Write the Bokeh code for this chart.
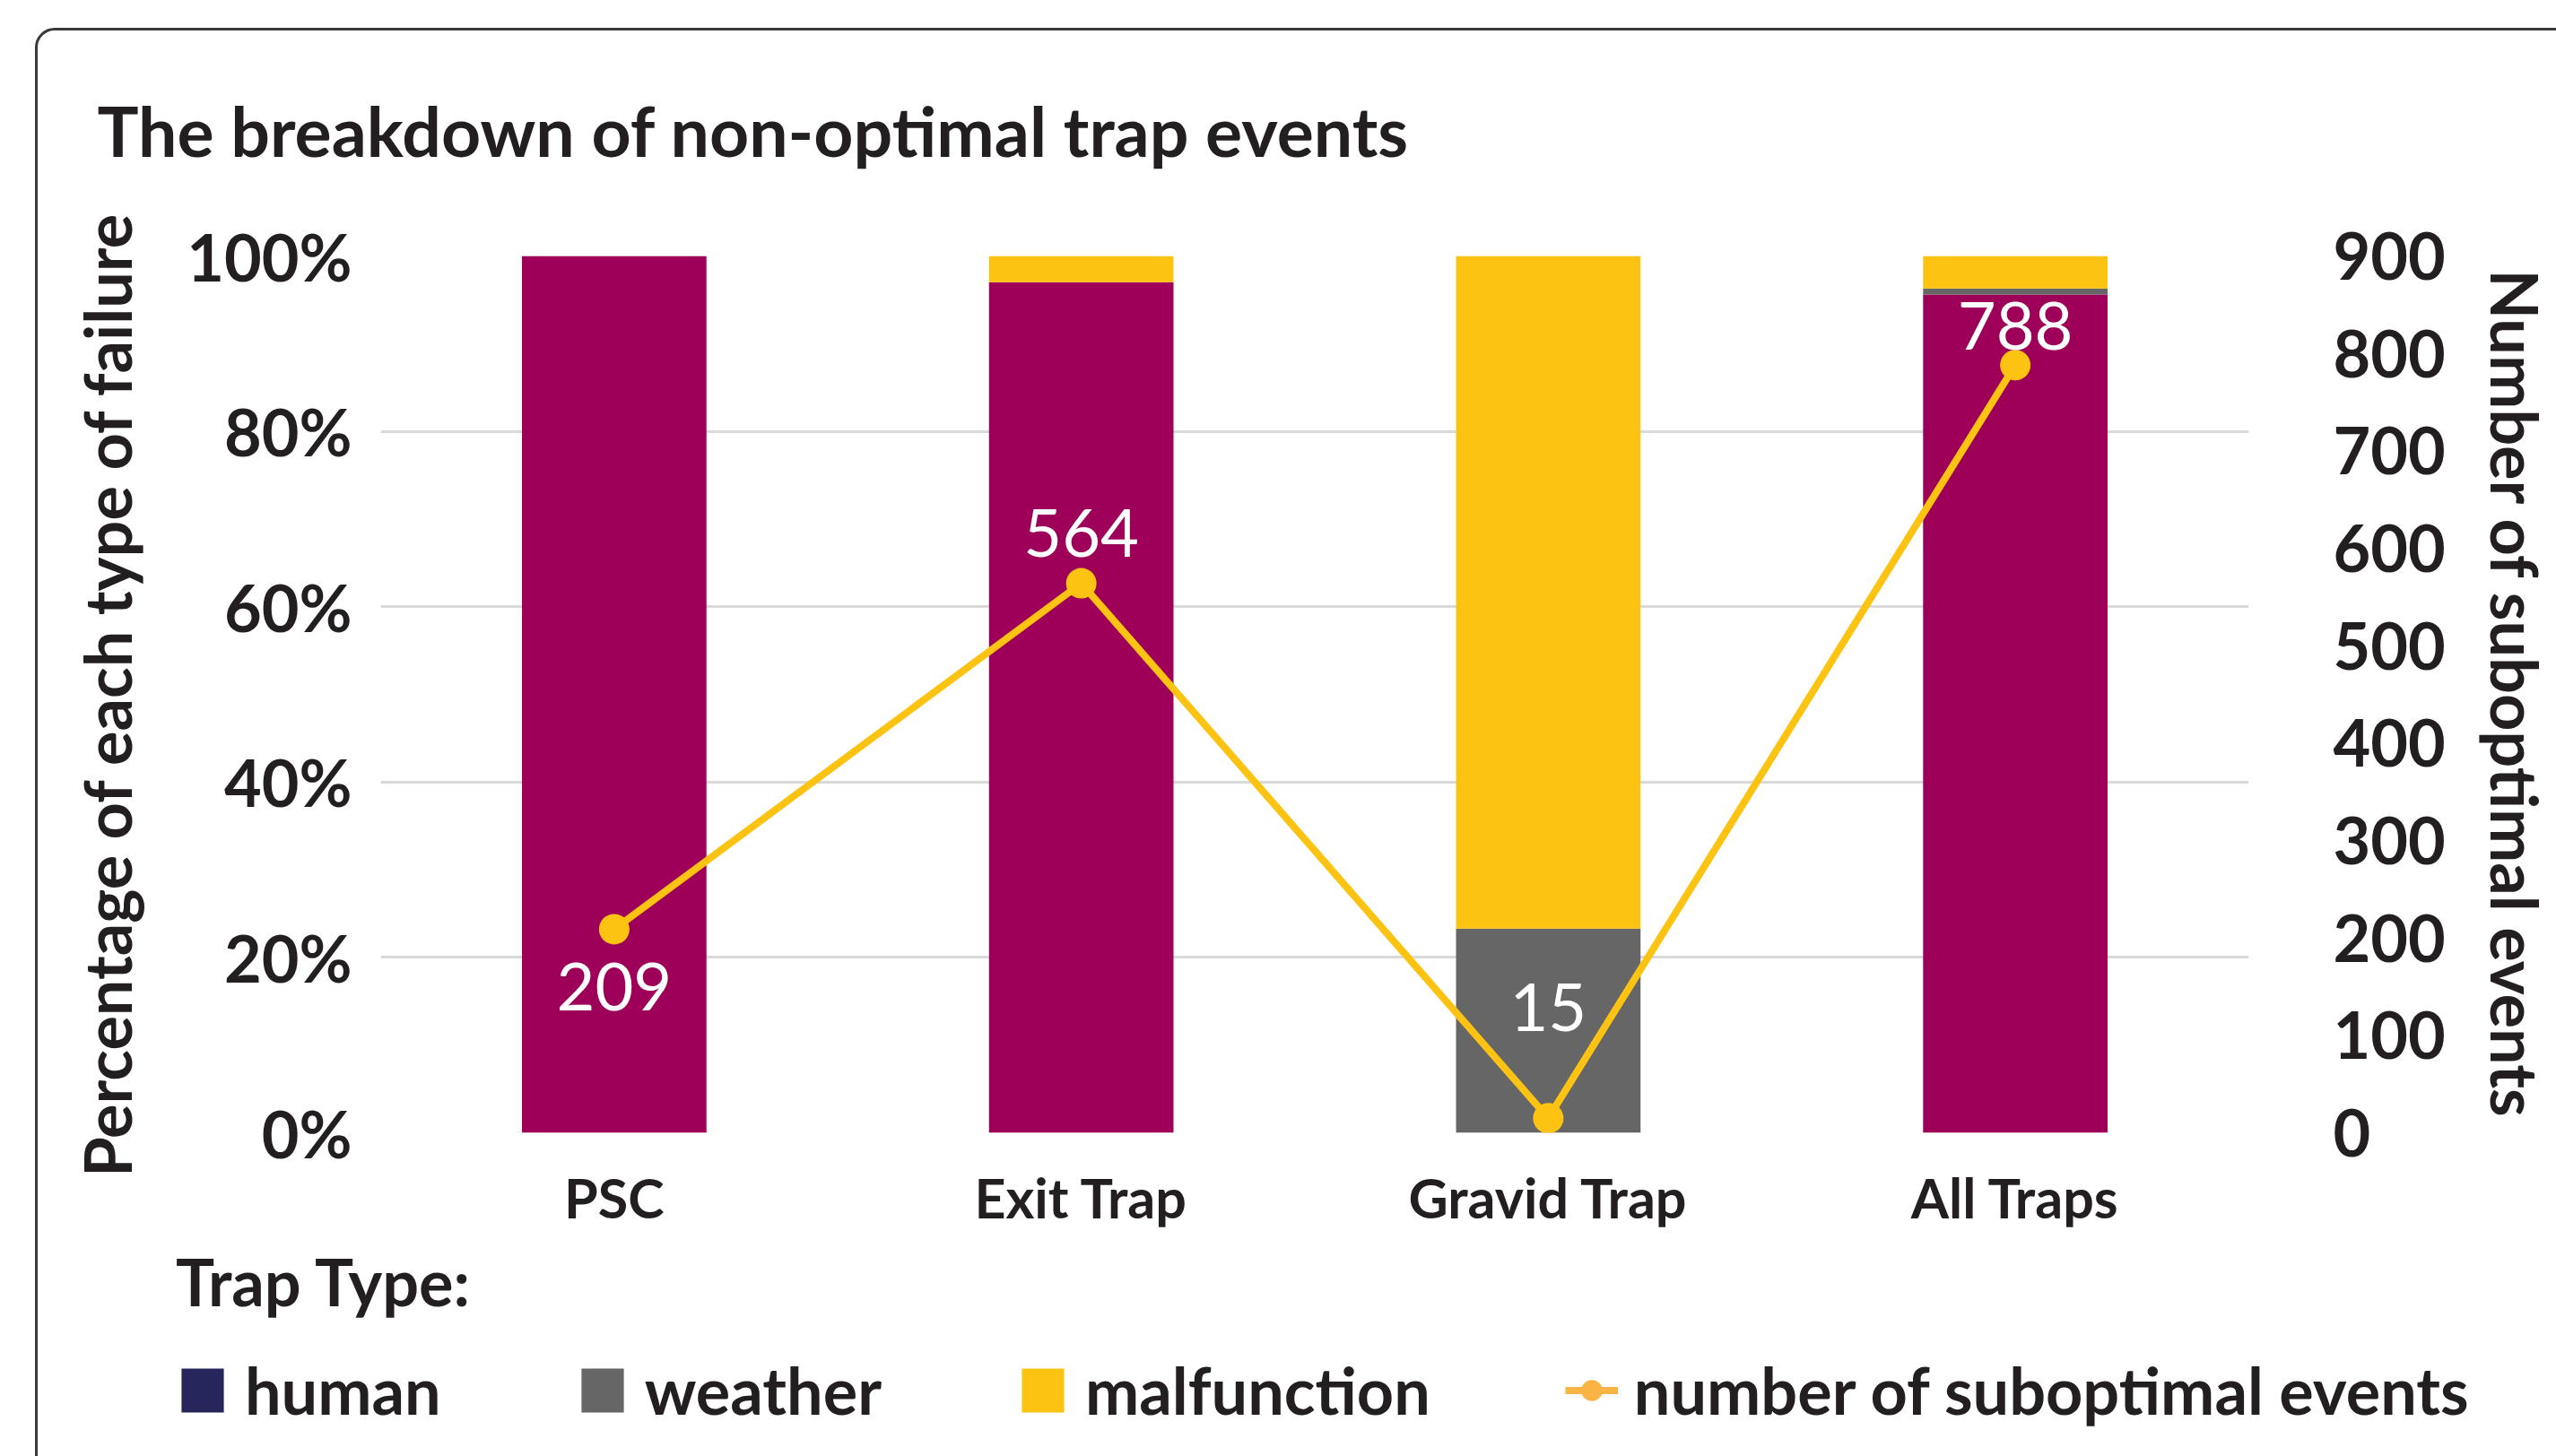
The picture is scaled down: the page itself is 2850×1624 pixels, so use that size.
from bokeh.plotting import figure
from bokeh.layouts import column
from bokeh.models import (ColumnDataSource, FactorRange, Range1d, LinearAxis, FixedTicker,
                          PrintfTickFormatter, Legend, LegendItem, LabelSet, InlineStyleSheet)
from bokeh.core.properties import value
from bokeh.embed import file_html
from bokeh.resources import INLINE

# ---- data ----
trap_types = ["PSC", "Exit Trap", "Gravid Trap", "All Traps"]
human = [100.0, 97.0, 0.0, 95.6]
weather = [0.0, 0.0, 23.3, 0.7]
malfunction = [0.0, 3.0, 76.7, 3.7]
suboptimal_events = [209, 564, 15, 788]
pct_ticks = [0, 20, 40, 60, 80, 100]
count_ticks = [0, 100, 200, 300, 400, 500, 600, 700, 800, 900]

# ---- styles ----
FONT = "Lato"
TXT = "#231F20"
CRIMSON = "#9E0059"
GRAY = "#666666"
YELLOW = "#FDC312"
NAVY = "#27265C"
ORANGE = "#F9B443"
label_dy = [-64, 56, 124, 44]   # pixel offsets of value labels (style)

W = 2850
H_MAIN, H_LEG = 1380, 244

p = figure(x_range=FactorRange(factors=trap_types), y_range=Range1d(0, 100),
           width=W, height=H_MAIN, output_backend="svg", toolbar_location=None,
           min_border_left=424, min_border_right=341, min_border_top=285,
           min_border_bottom=H_MAIN - 1263)
p.extra_y_ranges = {"count": Range1d(0, 900)}
p.outline_line_color = None
p.background_fill_color = "white"
p.border_fill_color = "white"

src = ColumnDataSource(dict(trap=trap_types, human=human, weather=weather, malfunction=malfunction,
                            count=suboptimal_events, label=[str(v) for v in suboptimal_events],
                            dy=label_dy))

p.vbar_stack(["human", "weather", "malfunction"], x="trap", width=0.395, source=src,
             fill_color=[CRIMSON, GRAY, YELLOW], line_color=None)

p.line(x="trap", y="count", source=src, y_range_name="count", line_color=YELLOW, line_width=8)
p.scatter(x="trap", y="count", source=src, y_range_name="count", size=34,
          fill_color=YELLOW, line_color=None)

labels = LabelSet(x="trap", y="count", text="label", y_range_name="count", source=src,
                  y_offset="dy", text_align="center", text_baseline="middle",
                  text_color="white", text_font=value(FONT), text_font_size="74px")
p.add_layout(labels)

# ---- axes ----
def style_axis(ax, size="72px"):
    ax.major_tick_line_color = None
    ax.minor_tick_line_color = None
    ax.axis_line_color = None
    ax.major_label_text_font = FONT
    ax.major_label_text_font_size = size
    ax.major_label_text_font_style = "bold"
    ax.major_label_text_color = TXT
    ax.axis_label_text_font = FONT
    ax.axis_label_text_font_size = "72px"
    ax.axis_label_text_font_style = "bold"
    ax.axis_label_text_color = TXT

ly = p.yaxis[0]
ly.ticker = FixedTicker(ticks=pct_ticks)
ly.formatter = PrintfTickFormatter(format="%d%%")
ly.axis_label = "Percentage of each type of failure"
style_axis(ly)
ly.major_label_standoff = 26
ly.axis_label_standoff = 43

ry = LinearAxis(y_range_name="count", ticker=FixedTicker(ticks=count_ticks),
                axis_label="Number of suboptimal events")
style_axis(ry)
ry.major_label_standoff = 88
ry.axis_label_standoff = 32
p.add_layout(ry, "right")

xa = p.xaxis[0]
style_axis(xa, "61px")
xa.major_label_standoff = 29

p.xgrid.grid_line_color = None
p.ygrid.ticker = FixedTicker(ticks=pct_ticks)
p.ygrid.grid_line_color = "#D9D9D9"
p.ygrid.grid_line_width = 3

# ---- title ----
p.title.text = "The breakdown of non-optimal trap events"
p.title.text_font = FONT
p.title.text_font_size = "77px"
p.title.text_font_style = "bold"
p.title.text_color = TXT
p.title.align = "left"
p.title.offset = 108 - 424
p.title.standoff = 190

# ---- legend (separate strip below the chart; proxies drawn outside its y-range) ----
pl = figure(width=W, height=H_LEG, output_backend="svg", toolbar_location=None,
            x_range=FactorRange(factors=trap_types), y_range=Range1d(1000, 1001),
            x_axis_location=None, y_axis_location=None, min_border=0)
pl.outline_line_color = None
pl.grid.visible = False
for fig in (p, pl):
    if hasattr(fig, "frame_align"):
        fig.frame_align = False
r_h = pl.vbar(x="trap", top="human", source=src, width=0.4, fill_color=NAVY, line_color=None)
r_w = pl.vbar(x="trap", top="weather", source=src, width=0.4, fill_color=GRAY, line_color=None)
r_m = pl.vbar(x="trap", top="malfunction", source=src, width=0.4, fill_color=YELLOW, line_color=None)
r_l = pl.line(x="trap", y="count", source=src, line_color=ORANGE, line_width=8)
r_s = pl.scatter(x="trap", y="count", source=src, size=30, fill_color=ORANGE, line_color=None)
legend = Legend(items=[LegendItem(label="human", renderers=[r_h]),
                       LegendItem(label="weather", renderers=[r_w]),
                       LegendItem(label="malfunction", renderers=[r_m]),
                       LegendItem(label="number of suboptimal events", renderers=[r_l, r_s])],
                orientation="horizontal", location=(196, 31),
                title="Trap Type:", title_text_font=FONT, title_text_font_size="72px",
                title_text_font_style="bold", title_text_color=TXT, title_standoff=35,
                label_text_font=FONT, label_text_font_size="72px", label_text_font_style="bold",
                label_text_color=TXT, glyph_width=59, glyph_height=61, label_standoff=18,
                spacing=150, padding=0, margin=0, border_line_color=None,
                background_fill_alpha=0)
pl.add_layout(legend)

layout = column(p, pl, spacing=0)

# ---- outer rounded frame (page decoration) ----
layout.stylesheets = [InlineStyleSheet(css="""
:host { position: relative; overflow: hidden; }
:host::after { content: ''; position: absolute; left: 38.5px; top: 30.5px;
  width: 4000px; height: 4000px; border: 3px solid #3A3A3A; border-radius: 22px;
  box-sizing: border-box; pointer-events: none; z-index: 10; }
""")]

open("out.html", "w").write(file_html(layout, INLINE))
